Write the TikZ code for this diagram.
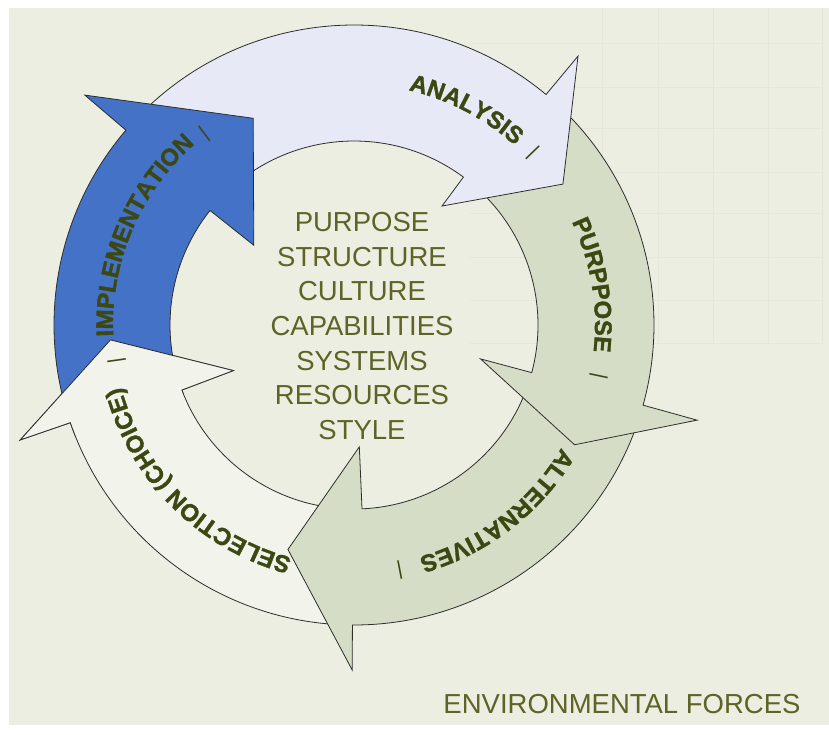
\documentclass[tikz,border=0pt]{standalone}
\usepackage{fontspec}
\setmainfont{Liberation Sans}
\newfontface\labface{Liberation Sans Bold}[FakeBold=1.5]
\usepackage{tikz}
\usetikzlibrary{decorations.text}

\definecolor{paper}{RGB}{237,238,226}
\definecolor{gridline}{RGB}{229,231,221}
\definecolor{implblue}{RGB}{68,114,198}
\definecolor{analysisblue}{RGB}{231,233,247}
\definecolor{sage}{RGB}{214,221,199}
\definecolor{choicewhite}{RGB}{242,243,235}
\definecolor{labelgreen}{RGB}{60,72,18}
\definecolor{olive}{RGB}{94,100,38}
\definecolor{outline}{RGB}{45,45,45}

\newcommand{\labfont}{\fontsize{24}{27}\labface}
% fill, tail, outer end, inner end, tip angle, outer barb, inner barb, tip radius
\newcommand{\ringarrow}[8]{%
  \filldraw[ring, fill=#1] (#2:300pt) arc[start angle=#2, end angle=#3, radius=300pt]
    -- (#3:#6pt) -- (#5:#8pt) -- (#4:#7pt) -- (#4:184pt)
    arc[start angle=#4, end angle=#2, radius=184pt] -- cycle;}

\begin{document}
\begin{tikzpicture}[x=1pt, y=1pt,
    ring/.style={draw=outline, line width=0.8pt},
    arclabel/.style={decorate, decoration={text along path, text align=center,
        text={|\labfont\color{labelgreen}|#1}}},
    bar/.style={text=labelgreen, font=\fontsize{20}{22}\selectfont, inner sep=0pt},
    core/.style={align=center, text=olive, font=\fontsize{27.5}{34.7}\selectfont}]
    \useasboundingbox (-354,-409) rectangle (475,325);
    \fill[white] (-354,-409) rectangle (475,325);
    \fill[paper] (-345,-400) rectangle (475,317);
    % faint grid behind the ring
    \foreach \gx in {248,304,359,414,468}
        \draw[gridline, line width=0.9pt] (\gx,317) -- (\gx,-20);
    \foreach \gy in {282,238,197,153,112,68,25,-18}
        \draw[gridline, line width=0.9pt] (116,\gy) -- (468,\gy);

    \ringarrow{choicewhite}{-92}{-161}{-159.3}{-176.5}{353}{129}{244}
    \ringarrow{sage}{-17}{-90.3}{-87.5}{-106.4}{345}{122}{234}
    \ringarrow{sage}{49}{-15.5}{-15}{-28.5}{356}{131}{251}
    \ringarrow{analysisblue}{138}{50.2}{53.5}{34}{350}{148}{252}
    \ringarrow{implblue}{197}{139.5}{141.5}{116}{354}{128}{230}
    \begin{scope}
        \clip (0,0) -- (202:420pt) arc[start angle=202, end angle=170, radius=420pt] -- cycle;
        \ringarrow{choicewhite}{-92}{-161}{-159.3}{-176.5}{353}{129}{244}
    \end{scope}

    \path[arclabel=ANALYSIS] (100:241pt) arc[start angle=100, end angle=25, radius=241pt];
    \path[arclabel=PURPPOSE] (45:241pt) arc[start angle=45, end angle=-26, radius=241pt];
    \path[arclabel=ALTERNATIVES] (-5:241pt) arc[start angle=-5, end angle=-100, radius=241pt];
    \path[arclabel=SELECTION (CHOICE)] (282:241pt) arc[start angle=282, end angle=168, radius=241pt];
    \path[arclabel=IMPLEMENTATION] (205:241pt) arc[start angle=205, end angle=109, radius=241pt];

    \node[bar, rotate=-46] (barA) at (43.9:248pt) {|};
    \node[bar, rotate=-102] (barP) at (-11.8:250pt) {|};
    \node[bar, rotate=-169] (barL) at (-79.4:249pt) {|};
    \node[bar, rotate=98] (barS) at (188.5:240pt) {|};
    \node[bar, rotate=37] (barI) at (128:243pt) {|};

    \node[core] (core) at (8,-1) {PURPOSE\\STRUCTURE\\CULTURE\\CAPABILITIES\\SYSTEMS\\RESOURCES\\STYLE};
    \node[text=olive, font=\fontsize{27.5}{30}\selectfont] (forces) at (268,-379) {ENVIRONMENTAL FORCES};
\end{tikzpicture}
\end{document}
